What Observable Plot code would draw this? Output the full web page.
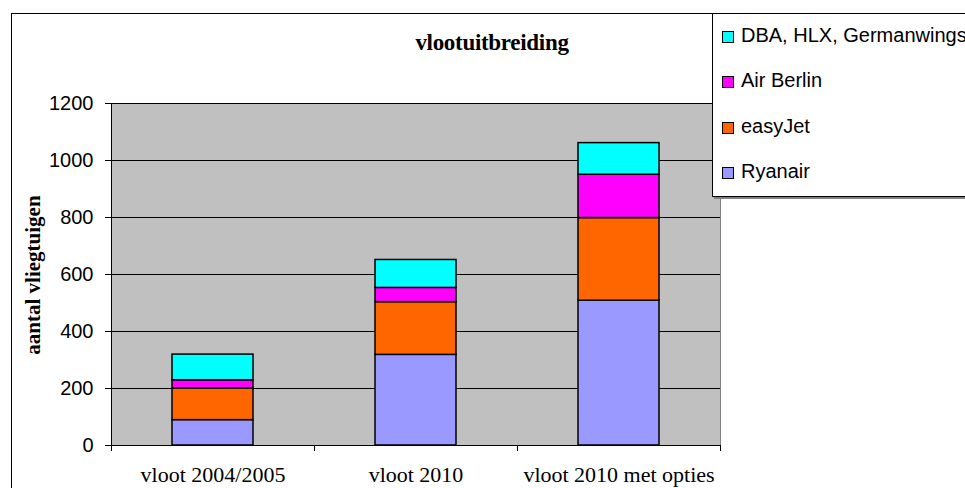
<!DOCTYPE html>
<html><head><meta charset="utf-8">
<script src="https://cdn.jsdelivr.net/npm/d3@7"></script>
<script src="https://cdn.jsdelivr.net/npm/@observablehq/plot@0.6"></script>
<style>
body{margin:0;background:#fff;}
#wrap{position:relative;width:965px;height:488px;overflow:hidden;}
#wrap svg{position:absolute;left:0;top:0;}
.frame{position:absolute;left:11px;top:13px;width:1000px;height:1000px;border:1px solid #000;box-sizing:border-box;}
.title{position:absolute;left:342px;width:300px;top:30px;text-align:center;font:bold 23px "Liberation Serif","Times New Roman",serif;color:#000;letter-spacing:-0.3px;}
.ylab{position:absolute;left:33px;top:275px;transform:translate(-50%,-50%) rotate(-90deg);white-space:nowrap;font:bold 21px "Liberation Serif","Times New Roman",serif;}
.legend{position:absolute;left:712px;top:13px;width:300px;height:184px;background:#fff;border:1px solid #000;box-sizing:border-box;box-shadow:2px 2px 0 #808080;font:20px "Liberation Sans",Arial,sans-serif;}
.legend .it{position:absolute;left:9px;height:24px;line-height:24px;white-space:nowrap;}
.legend .sw{display:inline-block;width:10px;height:10px;border:1px solid #000;margin-right:7px;vertical-align:-1px;}
</style>
</head><body>
<div id="wrap"></div>
<script>
const categories = ["vloot 2004/2005", "vloot 2010", "vloot 2010 met opties"];
const seriesNames = ["Ryanair", "easyJet", "Air Berlin", "DBA, HLX, Germanwings"];
const ryanair   = [89, 318, 508];
const easyJet   = [111, 185, 290];
const airBerlin = [29, 50, 152];
const dbaHlxGw  = [90, 98, 111];
const seriesColors = ["#9999FF", "#FF6600", "#FF00FF", "#00FFFF"];
const yTicks = [0, 200, 400, 600, 800, 1000, 1200];

const seriesValues = [ryanair, easyJet, airBerlin, dbaHlxGw];
const rows = [];
seriesNames.forEach((s, si) => categories.forEach((c, ci) => rows.push({cat: c, series: s, value: seriesValues[si][ci]})));

const W = 965, H = 488, mL = 111, mR = 245, mT = 103, mB = 43;
const xOpts = {type: "band", domain: categories, range: [mL, W - mR], paddingInner: 0.6, paddingOuter: 0.3};
const step = Plot.scale({x: xOpts}).step;

const plot = Plot.plot({
  width: W, height: H,
  marginLeft: mL, marginRight: mR, marginTop: mT, marginBottom: mB,
  style: {fontFamily: "'Liberation Sans', Arial, sans-serif", fontSize: "20px", background: "transparent", color: "#000"},
  x: {domain: categories, paddingInner: 0.6, paddingOuter: 0.3, label: null},
  y: {domain: [0, 1200], label: null},
  color: {domain: seriesNames, range: seriesColors},
  marks: [
    Plot.frame({fill: "#C0C0C0", stroke: "#808080"}),
    Plot.gridY(yTicks, {stroke: "#000", strokeOpacity: 1}),
    Plot.barY(rows, {x: "cat", y: "value", fill: "series", order: seriesNames, stroke: "#000", strokeWidth: 1.5}),
    Plot.ruleY([0], {stroke: "#000"}),
    Plot.frame({anchor: "left", stroke: "#000"}),
    Plot.axisY({ticks: yTicks, tickSize: 6, tickPadding: 12, fontSize: 20, tickFormat: d => String(d)}),
    Plot.axisX({tickSize: 0, tickPadding: 21, fontSize: 22, fontFamily: "'Liberation Serif', 'Times New Roman', serif"}),
    Plot.axisX(categories, {tickSize: 6, tickFormat: () => "", dx: -step / 2}),
    Plot.axisX(categories.slice(-1), {tickSize: 6, tickFormat: () => "", dx: step / 2})
  ]
});

const wrap = document.getElementById("wrap");
const frame = document.createElement("div"); frame.className = "frame"; wrap.appendChild(frame);
wrap.appendChild(plot);
const title = document.createElement("div"); title.className = "title"; title.textContent = "vlootuitbreiding"; wrap.appendChild(title);
const ylab = document.createElement("div"); ylab.className = "ylab"; ylab.textContent = "aantal vliegtuigen"; wrap.appendChild(ylab);
const legend = document.createElement("div"); legend.className = "legend";
const legendOrder = seriesNames.slice().reverse();
legendOrder.forEach((s, i) => {
  const it = document.createElement("div"); it.className = "it"; it.style.top = (9 + i * 45.3) + "px";
  const sw = document.createElement("span"); sw.className = "sw"; sw.style.background = seriesColors[seriesNames.indexOf(s)];
  it.appendChild(sw); it.appendChild(document.createTextNode(s));
  legend.appendChild(it);
});
wrap.appendChild(legend);
</script>
</body></html>
